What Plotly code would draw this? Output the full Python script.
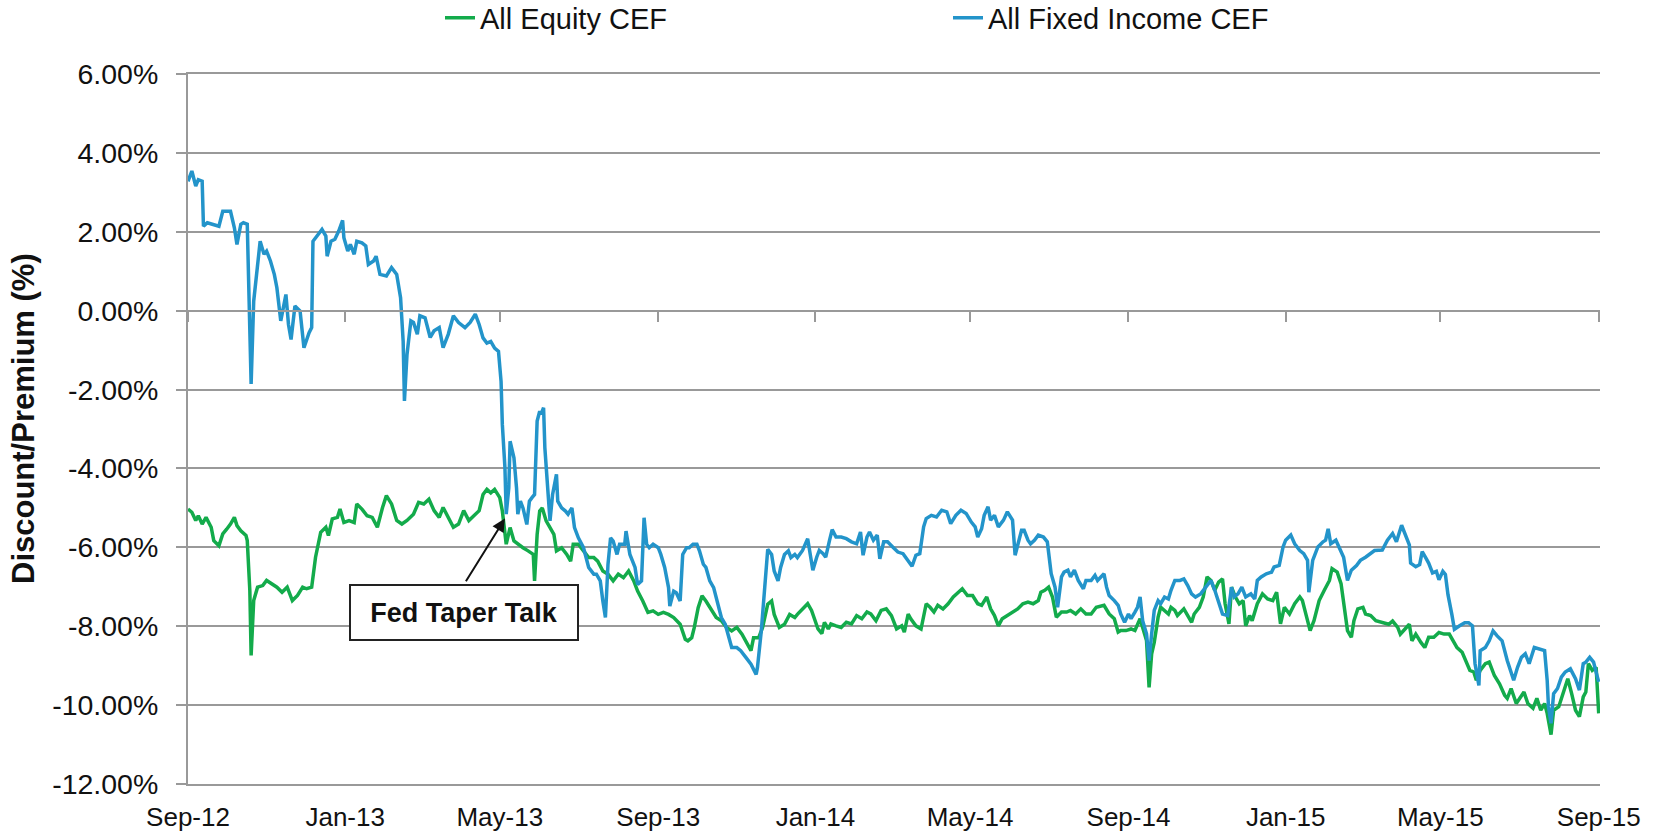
import pandas as pd
import plotly.graph_objects as go

START = pd.Timestamp("2012-09-01")

# ---- All Equity CEF (green): days since 2012-09-01, discount/premium in %
equity_days = [
    0, 3, 6, 8, 11, 14, 18, 20, 24, 27, 30, 33, 36, 38, 41, 45, 46, 48, 49, 51,
    54, 58, 61, 65, 69, 73, 77, 81, 85, 89, 92, 96, 99, 103, 107, 109, 112, 116, 118, 121,
    125, 129, 131, 135, 139, 143, 147, 151, 154, 158, 162, 166, 170, 175, 179, 183, 187, 191, 195, 198,
    202, 206, 210, 214, 218, 222, 226,
    229, 232, 235, 238, 242, 244, 247, 250, 253, 256, 260, 264, 268, 269, 271, 273, 275, 278, 281, 284,
    286, 290, 294, 297, 299, 303, 307, 311, 315, 318, 322, 326, 330, 334, 338, 342, 346, 349, 353, 357,
    361, 365, 369, 373, 377, 382, 386, 388, 391, 393, 396, 399, 402, 406, 410, 414, 418, 422, 426, 430,
    433, 437, 439, 443, 446, 450, 453, 455, 459, 463, 467, 471, 473,
    475, 479, 481, 484, 487, 489, 492, 494, 497, 499, 503, 507, 511, 515, 519, 523, 527, 530, 534, 538,
    542, 546, 550, 554, 556, 559, 561, 565, 569, 573, 576, 579, 582, 586, 590, 594, 598, 601, 605, 609,
    613, 616, 620, 623, 626, 629, 632, 636, 640, 644, 648, 652, 656, 660, 662, 665, 668, 671, 674, 678,
    682, 685, 689, 693, 697, 701, 705,
    711, 715, 719, 722, 724, 728, 732, 735, 739, 741, 744, 746, 748, 750, 753, 755, 758, 761, 763, 766,
    768, 771, 773, 776, 779, 781, 785, 788, 791, 794, 797, 800, 803, 805, 808, 810, 813, 816, 819, 821,
    824, 826, 830, 834, 838, 842, 845, 848, 851, 855, 859, 863, 865, 868, 871, 874, 878, 882, 886, 888,
    892, 895, 897, 900, 903, 905, 908, 912, 914, 918, 922,
    929, 932, 935, 939, 941, 944, 948, 950, 953, 957, 960, 963, 967, 971, 975, 979, 982, 985, 989, 992,
    995, 998, 1000, 1003, 1007, 1010, 1014, 1018, 1022, 1024, 1027, 1031, 1034, 1037, 1040, 1044, 1047, 1050, 1053, 1055,
    1058, 1060, 1064, 1068, 1071, 1074, 1077, 1080, 1083, 1085, 1087, 1090, 1093, 1094, 1095,
]
equity_values = [
    -5.03, -5.11, -5.32, -5.20, -5.41, -5.24, -5.49, -5.83, -5.96, -5.66, -5.54, -5.41, -5.24, -5.45, -5.58, -5.70, -5.83, -7.10, -8.74, -7.35,
    -7.01, -6.97, -6.84, -6.93, -7.01, -7.14, -7.01, -7.35, -7.22, -7.01, -7.05, -7.01, -6.25, -5.62, -5.49, -5.70, -5.28, -5.24, -5.03, -5.37,
    -5.32, -5.37, -4.90, -5.03, -5.20, -5.24, -5.49, -4.99, -4.69, -4.90, -5.32, -5.41, -5.32, -5.16, -4.86, -4.90, -4.78, -5.07, -5.24, -4.99,
    -5.24, -5.49, -5.41, -5.07, -5.32, -5.20, -5.07,
    -4.66, -4.53, -4.62, -4.53, -4.74, -5.08, -5.92, -5.50, -5.84, -5.92, -6.01, -6.09, -6.18, -6.85, -5.67, -5.08, -5.00, -5.33, -5.50, -5.67,
    -6.09, -6.01, -6.18, -6.35, -5.92, -5.92, -6.09, -6.26, -6.26, -6.35, -6.60, -6.68, -6.85, -6.68, -6.77, -6.60, -6.85, -7.11, -7.36, -7.65,
    -7.61, -7.70, -7.65, -7.70, -7.78, -7.95, -8.33, -8.37, -8.29, -8.03, -7.53, -7.23, -7.36, -7.57, -7.78, -7.86, -8.03, -8.12, -8.03, -8.20,
    -8.37, -8.62, -8.29, -8.29, -8.03, -7.44, -7.36, -7.70, -8.03, -7.95, -7.70, -7.78, -7.70,
    -7.64, -7.52, -7.43, -7.60, -7.86, -8.07, -8.19, -7.90, -8.07, -7.94, -7.99, -8.03, -7.90, -7.94, -7.73, -7.81, -7.64, -7.69, -7.86, -7.60,
    -7.56, -7.73, -8.07, -7.99, -8.15, -7.69, -7.81, -7.99, -8.07, -7.43, -7.52, -7.64, -7.47, -7.56, -7.43, -7.26, -7.14, -7.05, -7.22, -7.22,
    -7.43, -7.47, -7.26, -7.56, -7.73, -7.99, -7.81, -7.73, -7.64, -7.56, -7.43, -7.39, -7.43, -7.35, -7.14, -7.09, -7.01, -7.26, -7.77, -7.64,
    -7.64, -7.60, -7.69, -7.56, -7.69, -7.69, -7.52,
    -7.47, -7.69, -7.81, -8.15, -8.11, -8.11, -8.07, -8.11, -7.81, -8.03, -8.36, -9.55, -8.70, -8.41, -7.77, -7.52, -7.60, -7.69, -7.52, -7.60,
    -7.73, -7.64, -7.56, -7.73, -7.90, -7.69, -7.52, -7.26, -6.75, -6.84, -7.09, -6.88, -6.80, -7.43, -7.94, -7.01, -7.26, -7.43, -7.35, -7.99,
    -7.73, -7.86, -7.43, -7.18, -7.31, -7.35, -7.14, -7.94, -7.52, -7.69, -7.43, -7.26, -7.35, -7.73, -8.11, -7.86, -7.35, -7.09, -6.84, -6.54,
    -6.63, -6.92, -7.35, -8.11, -8.28, -7.86, -7.56, -7.52, -7.69, -7.73, -7.86,
    -7.91, -7.95, -7.87, -8.03, -8.20, -8.08, -7.95, -8.37, -8.20, -8.41, -8.54, -8.28, -8.28, -8.16, -8.20, -8.20, -8.37, -8.54, -8.66, -8.87,
    -9.12, -9.16, -9.37, -9.12, -8.95, -8.91, -9.25, -9.46, -9.75, -9.83, -9.58, -9.96, -9.83, -9.67, -9.96, -10.08, -9.83, -10.13, -9.96, -10.21,
    -10.75, -10.13, -10.04, -9.62, -9.33, -9.71, -10.13, -10.29, -9.79, -9.67, -8.95, -9.12, -9.04, -9.62, -10.21,
]

# ---- All Fixed Income CEF (blue)
fixed_days = [
    0, 3, 6, 8, 11, 12, 15, 20, 24, 27, 33, 36, 38, 41, 43, 46, 47, 49, 51, 54,
    56, 59, 61, 64, 67, 69, 72, 76, 78, 80, 83, 87, 90, 94, 96, 97, 100, 104, 107, 108,
    111, 114, 117, 120, 121, 124, 126, 129, 131, 135, 138, 140, 144, 146, 149, 154, 158, 162, 165, 167,
    168, 170, 173, 175, 178, 180, 184, 188, 191, 195, 198, 202, 206, 210, 215, 219, 223, 226,
    229, 232, 235, 238, 241, 243, 244, 246, 247, 249, 250, 253, 255, 256, 258, 260, 263, 265, 267, 269,
    271, 273, 274, 276, 277, 279, 281, 283, 286, 287, 290, 293, 295, 298, 300, 303, 307, 311, 315, 317,
    320, 322, 324, 326, 328, 330, 333, 335, 339, 340, 343, 347, 349, 352, 354, 356, 358, 361, 365, 367,
    370, 373, 374, 377, 379, 382, 384, 387, 389, 392, 395, 397, 400, 402, 405, 408, 411, 414, 417, 419,
    422, 426, 429, 433, 437, 441, 442, 445, 448, 450, 453, 455, 458, 460, 463, 466, 468, 471, 473,
    475, 477, 481, 483, 485, 488, 490, 493, 495, 498, 500, 503, 507, 511, 515, 519, 522, 524, 527, 529,
    532, 535, 537, 540, 543, 547, 551, 555, 559, 562, 565, 568, 571, 573, 577, 581, 585, 589, 592, 596,
    600, 604, 608, 611, 613, 616, 618, 621, 623, 626, 629, 633, 636, 640, 642, 644, 647, 649, 652, 654,
    657, 660, 664, 667, 670, 673, 675, 678, 680, 683, 685, 688, 691, 695, 697, 701, 704, 706,
    711, 713, 715, 719, 722, 724, 727, 730, 732, 735, 737, 739, 741, 744, 746, 748, 750, 753, 755, 758,
    761, 763, 766, 770, 773, 776, 779, 782, 786, 790, 794, 797, 800, 803, 807, 810, 812, 815, 818, 821,
    825, 828, 830, 833, 837, 841, 843, 847, 850, 852, 856, 859, 863, 866, 869, 870, 873, 877, 881, 883,
    885, 887, 891, 895, 897, 900, 903, 907, 910, 914, 918, 921,
    927, 931, 935, 938, 942, 945, 948, 949, 953, 956, 958, 961, 963, 966, 969, 971, 974, 976, 978, 981,
    983, 987, 991, 994, 997, 999, 1002, 1003, 1007, 1010, 1013, 1016, 1020, 1024, 1027, 1029, 1032, 1035, 1038, 1041,
    1045, 1049, 1053, 1055, 1056, 1058, 1060, 1063, 1066, 1069, 1073, 1077, 1080, 1083, 1085, 1088, 1091, 1094, 1095,
]
fixed_values = [
    3.28, 3.54, 3.16, 3.32, 3.28, 2.14, 2.23, 2.19, 2.14, 2.52, 2.52, 2.10, 1.68, 2.19, 2.23, 2.19, 0.92, -1.86, 0.24, 1.09,
    1.76, 1.43, 1.51, 1.26, 0.92, 0.58, -0.26, 0.41, -0.35, -0.73, 0.12, -0.01, -0.94, -0.56, -0.43, 1.76, 1.89, 2.06, 1.89, 1.38,
    1.76, 1.81, 2.02, 2.29, 1.85, 1.51, 1.68, 1.43, 1.76, 1.72, 1.64, 1.17, 1.26, 1.38, 0.92, 0.88, 1.09, 0.92, 0.33, -0.77,
    -2.29, -1.11, -0.26, -0.30, -0.60, -0.13, -0.18, -0.68, -0.51, -0.43, -0.94, -0.60, -0.13, -0.30, -0.43, -0.30, -0.09, -0.35,
    -0.69, -0.82, -0.78, -0.95, -1.03, -1.79, -2.89, -3.98, -5.16, -4.49, -3.31, -3.73, -4.49, -5.16, -4.83, -5.00, -5.42, -4.83, -4.74, -4.66,
    -2.80, -2.55, -2.63, -2.46, -3.48, -4.49, -5.33, -4.66, -4.15, -4.83, -5.00, -5.08, -5.16, -5.00, -5.50, -5.76, -6.01, -6.51, -6.68, -6.68,
    -6.85, -7.36, -7.78, -6.43, -5.76, -5.84, -6.18, -5.92, -5.92, -5.59, -6.18, -6.51, -6.94, -6.85, -5.25, -5.92, -6.01, -5.92, -6.01, -6.18,
    -6.51, -7.02, -7.49, -7.11, -7.15, -7.36, -6.18, -6.01, -6.01, -5.92, -5.92, -6.09, -6.43, -6.51, -6.85, -7.02, -7.36, -7.78, -7.95, -8.20,
    -8.54, -8.54, -8.62, -8.79, -8.96, -9.22, -9.05, -8.12, -7.02, -6.05, -6.18, -6.60, -6.85, -6.51, -6.18, -6.09, -6.26, -6.18, -6.26,
    -6.16, -6.08, -5.78, -6.25, -6.58, -6.25, -6.08, -6.16, -6.25, -5.82, -5.55, -5.74, -5.74, -5.78, -5.86, -5.91, -5.61, -6.20, -5.74, -5.61,
    -5.82, -5.69, -6.29, -5.86, -5.86, -5.99, -6.12, -6.16, -6.33, -6.48, -6.20, -6.16, -5.48, -5.27, -5.19, -5.23, -5.06, -5.10, -5.40, -5.19,
    -5.06, -5.14, -5.36, -5.48, -5.74, -5.53, -5.19, -4.97, -5.31, -5.19, -5.48, -5.31, -5.10, -5.31, -6.20, -5.91, -5.57, -5.57, -5.82, -5.91,
    -5.82, -5.69, -5.74, -5.86, -6.67, -7.01, -7.52, -6.75, -6.63, -6.58, -6.75, -6.58, -6.84, -7.05, -6.84, -6.84, -6.71, -6.84,
    -6.67, -7.01, -7.22, -7.35, -7.47, -7.69, -7.90, -7.69, -7.81, -7.64, -7.52, -7.26, -7.86, -8.19, -8.87, -8.19, -7.60, -7.35, -7.43, -7.26,
    -7.31, -7.09, -6.84, -6.84, -6.80, -6.97, -7.18, -7.26, -7.18, -7.01, -6.84, -7.09, -7.43, -7.69, -7.73, -7.01, -7.26, -7.18, -7.01, -7.26,
    -7.18, -7.31, -6.84, -6.75, -6.67, -6.63, -6.50, -6.46, -5.99, -5.82, -5.69, -5.91, -6.08, -6.16, -6.33, -7.14, -6.33, -5.99, -5.86, -5.82,
    -5.53, -5.91, -5.82, -6.08, -6.25, -6.84, -6.58, -6.46, -6.33, -6.25, -6.16, -6.08,
    -6.07, -5.82, -5.65, -5.86, -5.44, -5.69, -5.94, -6.40, -6.49, -6.44, -6.11, -6.28, -6.40, -6.65, -6.61, -6.82, -6.61, -6.69, -7.20, -7.70,
    -8.08, -7.99, -7.91, -7.91, -7.99, -8.95, -9.50, -8.62, -8.54, -8.37, -8.12, -8.24, -8.37, -8.87, -9.21, -9.37, -9.04, -8.79, -8.70, -8.95,
    -8.54, -8.58, -8.62, -9.37, -10.04, -10.46, -9.71, -9.58, -9.29, -9.16, -9.08, -9.33, -9.62, -8.95, -8.91, -8.79, -8.91, -9.29, -9.41,
]

series_names = ["All Equity CEF", "All Fixed Income CEF"]
y_axis_title = "Discount/Premium (%)"

x_tick_dates = ["2012-09-01", "2013-01-01", "2013-05-01", "2013-09-01", "2014-01-01",
                "2014-05-01", "2014-09-01", "2015-01-01", "2015-05-01", "2015-09-01"]
x_tick_text = ["Sep-12", "Jan-13", "May-13", "Sep-13", "Jan-14",
               "May-14", "Sep-14", "Jan-15", "May-15", "Sep-15"]
y_tick_vals = [6, 4, 2, 0, -2, -4, -6, -8, -10, -12]
y_tick_text = ["6.00%", "4.00%", "2.00%", "0.00%", "-2.00%", "-4.00%",
               "-6.00%", "-8.00%", "-10.00%", "-12.00%"]

annotation_text = "Fed Taper Talk"
arrow_tip = ("2013-05-05", -5.27)
arrow_tail = ("2013-04-04", -6.90)
box_center = ("2013-04-03", -7.64)

x_range = ["2012-09-01", "2015-09-02"]
y_range = [-12, 6]

GREEN = "#13AB4B"
BLUE = "#2394CA"
GRID = "#999999"
TXT = "#111111"
FONT = "Liberation Sans, Arial, sans-serif"

# plot-area geometry in pixels (figure is 1654 x 835)
ML, MR, MT, MB = 188, 54, 74, 51
PW = 1654 - ML - MR
PH = 835 - MT - MB

eq_dates = START + pd.to_timedelta(equity_days, unit="D")
fi_dates = START + pd.to_timedelta(fixed_days, unit="D")

fig = go.Figure()
fig.add_trace(go.Scatter(x=eq_dates, y=equity_values, mode="lines", name=series_names[0],
                         line=dict(color=GREEN, width=3.5), legend="legend"))
fig.add_trace(go.Scatter(x=fi_dates, y=fixed_values, mode="lines", name=series_names[1],
                         line=dict(color=BLUE, width=3.5), legend="legend2"))

fig.update_layout(
    width=1654, height=835, autosize=False,
    margin=dict(l=ML, r=MR, t=MT, b=MB, autoexpand=False),
    paper_bgcolor="white", plot_bgcolor="white",
    font=dict(family=FONT, color=TXT),
    xaxis=dict(type="date", range=x_range, tickvals=x_tick_dates, ticktext=x_tick_text,
               tickfont=dict(family=FONT, size=26, color=TXT), showgrid=False, zeroline=False,
               showline=True, linecolor=GRID, linewidth=2, mirror=True,
               ticks="", ticklabelstandoff=9, automargin=False),
    xaxis2=dict(type="date", range=x_range, tickvals=x_tick_dates, overlaying="x",
                anchor="free", position=(0 - y_range[0]) / (y_range[1] - y_range[0]),
                showticklabels=False, showgrid=False, zeroline=False,
                showline=True, linecolor=GRID, linewidth=2,
                ticks="outside", ticklen=10, tickwidth=2, tickcolor=GRID, automargin=False),
    yaxis=dict(range=y_range, tickvals=y_tick_vals, ticktext=y_tick_text,
               tickfont=dict(family=FONT, size=28.5, color=TXT),
               showgrid=True, gridcolor=GRID, gridwidth=2,
               zeroline=False, showline=True, linecolor=GRID, linewidth=2,
               ticks="outside", ticklen=10, tickwidth=2, tickcolor=GRID,
               ticklabelstandoff=12, automargin=False),
    legend=dict(orientation="h", x=(440 - ML) / PW, xanchor="left",
                y=(PH + MT - 18) / PH, yanchor="middle",
                font=dict(family=FONT, size=29, color=TXT), bgcolor="rgba(0,0,0,0)"),
    legend2=dict(orientation="h", x=(948 - ML) / PW, xanchor="left",
                 y=(PH + MT - 18) / PH, yanchor="middle",
                 font=dict(family=FONT, size=29, color=TXT), bgcolor="rgba(0,0,0,0)"),
    showlegend=True,
)

# helper trace so the 0% axis (xaxis2) is drawn; it carries no visible data
fig.add_trace(go.Scatter(x=[x_range[0]], y=[None], xaxis="x2", showlegend=False,
                         hoverinfo="skip", mode="lines"))

# y-axis title
fig.add_annotation(text="<b>" + y_axis_title + "</b>", textangle=-90,
                   xref="paper", yref="paper", x=(23 - ML) / PW, y=(PH + MT - 419) / PH,
                   xanchor="center", yanchor="middle", showarrow=False,
                   font=dict(family=FONT, size=31, color=TXT))

fig.add_annotation(x=arrow_tip[0], y=arrow_tip[1], ax=arrow_tail[0], ay=arrow_tail[1],
                   xref="x", yref="y", axref="x", ayref="y", text="", showarrow=True,
                   arrowhead=2, arrowsize=1.3, arrowwidth=2, arrowcolor=TXT, standoff=0)
fig.add_annotation(x=box_center[0], y=box_center[1], xref="x", yref="y", showarrow=False,
                   text="<b>" + annotation_text + "</b>",
                   font=dict(family=FONT, size=27, color=TXT),
                   bgcolor="white", bordercolor="#222222", borderwidth=2, borderpad=0,
                   width=226, height=53)

fig.write_html("out.html", include_plotlyjs=True, config={"displayModeBar": False},
               post_script="document.body.style.margin='0';")
